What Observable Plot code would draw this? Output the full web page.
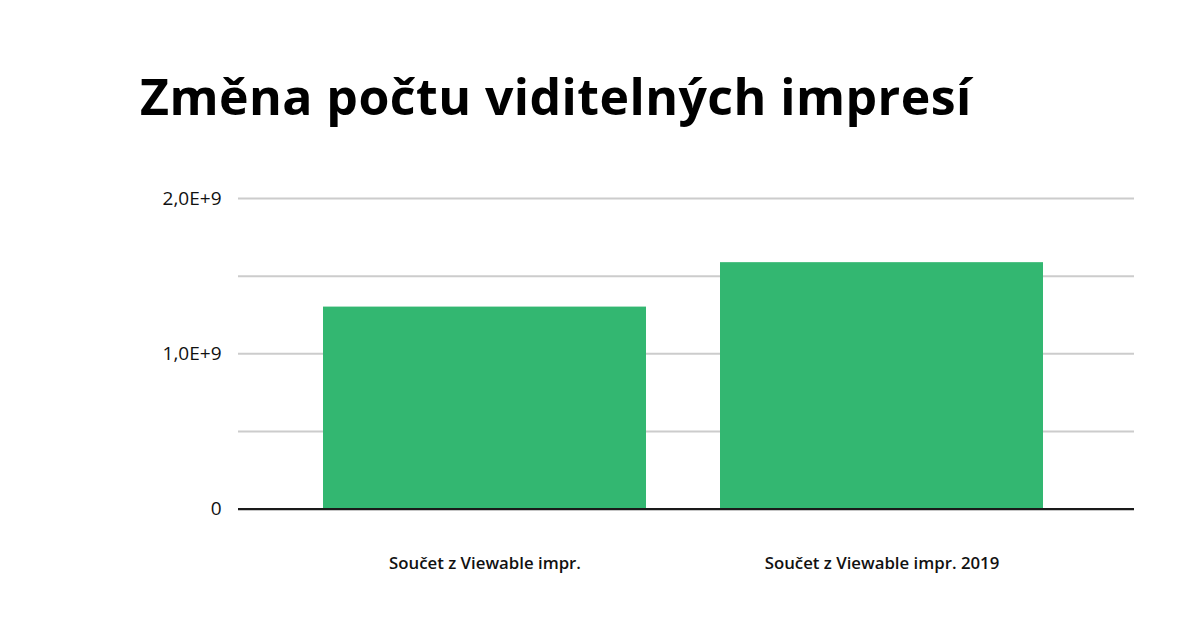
<!DOCTYPE html>
<html>
<head>
<meta charset="utf-8">
<script src="https://cdn.jsdelivr.net/npm/d3@7"></script>
<script src="https://cdn.jsdelivr.net/npm/@observablehq/plot@0.6"></script>
<style>
  html, body { margin: 0; padding: 0; background: #fff; }
  #wrap { position: relative; width: 1200px; height: 628px; overflow: hidden; }
  #title { position: absolute; left: 140px; top: 70.6px; margin: 0; font-family: "Open Sans", "Noto Sans", sans-serif; font-weight: 700; font-size: 50px; line-height: 50px; color: #000; letter-spacing: 0.45px; white-space: nowrap; }
  #chart { position: absolute; left: 0; top: 140px; }
</style>
</head>
<body>
<div id="wrap">
  <h1 id="title">Změna počtu viditelných impresí</h1>
  <div id="chart"></div>
</div>
<script>
const categories = ["Součet z Viewable impr.", "Součet z Viewable impr. 2019"];
const values = [1.301e9, 1.587e9];
const gridValues = [0.5e9, 1.0e9, 1.5e9, 2.0e9];
const tickValues = [0, 1.0e9, 2.0e9];
const tickLabels = ["0", "1,0E+9", "2,0E+9"];

const data = categories.map((c, i) => ({category: c, value: values[i]}));

const chart = Plot.plot({
  width: 1200,
  height: 460,
  marginTop: 58,
  marginBottom: 91.3,
  marginLeft: 238,
  marginRight: 66,
  style: {fontFamily: "'Open Sans', 'Noto Sans', sans-serif", background: "transparent", overflow: "visible"},
  x: {domain: categories, range: [248.5, 1118], padding: 0.1874, label: null},
  y: {domain: [0, 2e9], label: null},
  marks: [
    Plot.ruleY(gridValues, {stroke: "#cccccc", strokeWidth: 2}),
    Plot.barY(data, {x: "category", y: "value", fill: "#33b771"}),
    Plot.ruleY([0], {stroke: "#1a1a1a", strokeWidth: 2.2}),
    Plot.axisY(tickValues, {
      tickSize: 0, tickPadding: 17, fontSize: 19, fill: "#111",
      tickFormat: (d) => tickLabels[tickValues.indexOf(d)], label: null
    }),
    Plot.axisX({
      tickSize: 0, tickPadding: 47.5, fontSize: 16.8, fontWeight: 600, fill: "#111", label: null
    })
  ]
});
document.getElementById("chart").appendChild(chart);
</script>
</body>
</html>
